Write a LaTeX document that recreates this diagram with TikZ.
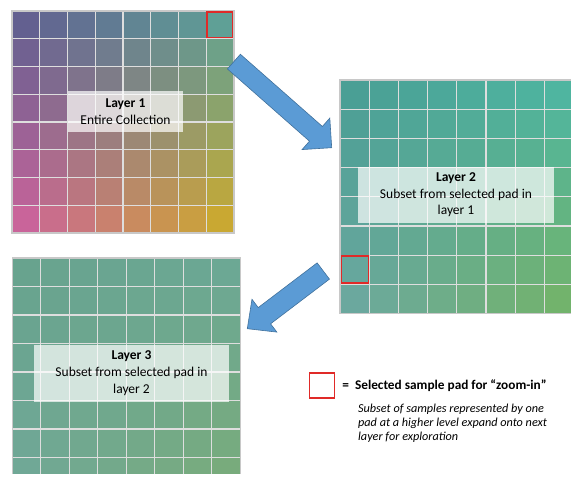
\documentclass[tikz,border=0pt]{standalone}
\usepackage{fontspec}
\setmainfont{Carlito}
\usetikzlibrary{calc,positioning}

\definecolor{padred}{HTML}{E02A28}
\definecolor{arrowblue}{HTML}{5B9BD5}
\definecolor{arrowedge}{HTML}{41719C}
\definecolor{gridline}{HTML}{DEDEDE}
\definecolor{gridframe}{HTML}{C8C8C8}
% corner colours of the three layers
\definecolor{oneTL}{HTML}{636090}
\definecolor{oneTR}{HTML}{5FA096}
\definecolor{oneBL}{HTML}{C9649A}
\definecolor{oneBR}{HTML}{C9A832}
\definecolor{twoTL}{HTML}{4A9F95}
\definecolor{twoTR}{HTML}{4FB5A0}
\definecolor{twoBL}{HTML}{6BA89E}
\definecolor{twoBR}{HTML}{72B36C}
\definecolor{threeTL}{HTML}{68A38E}
\definecolor{threeTR}{HTML}{6CA894}
\definecolor{threeBL}{HTML}{70A896}
\definecolor{threeBR}{HTML}{78AB7C}

\tikzset{
  layerbox/.style={fill=white, fill opacity=0.7, text opacity=1, align=center, inner sep=0pt,
    font=\fontsize{13.5}{16.8}\selectfont},
  padmark/.style={draw=padred, line width=1.4pt},
  blockarrow/.style={fill=arrowblue, draw=arrowedge, line width=0.6pt, line join=miter},
  cellline/.style={gridline, line width=1.3pt},
  cellframe/.style={gridframe, line width=1.6pt},
}

\begin{document}
\begin{tikzpicture}[x=1pt, y=-1pt]
    \useasboundingbox (0,0) rectangle (571,484);

    % Layer 1: 8x8 pads
    \foreach \i in {0,...,7}{
      \foreach \j in {0,...,7}{
        \pgfmathtruncatemacro\cx{100*\i/7}
        \pgfmathtruncatemacro\cy{100*\j/7}
        \colorlet{rowtop}{oneTR!\cx!oneTL}
        \colorlet{rowbot}{oneBR!\cx!oneBL}
        \fill[rowbot!\cy!rowtop] ({12+27.75*\i},{11+27.75*\j}) rectangle ++(27.75,27.75);
      }
    }
    \foreach \k in {1,...,7}{
      \draw[cellline] ({12+27.75*\k},11) -- ++(0,222);
      \draw[cellline] (12,{11+27.75*\k}) -- ++(222,0);
    }
    \draw[cellframe] (12,11) rectangle ++(222,222);
    \node[padmark, minimum size=25.6, inner sep=0pt] (pickone) at (219.6,25) {};
    \node[layerbox, minimum width=115, minimum height=41] (layerone) at (125.5,111.5)
      {\textbf{Layer 1}\\Entire Collection};

    % Layer 2: subset of one pad
    \foreach \i in {0,...,7}{
      \foreach \j in {0,...,7}{
        \pgfmathtruncatemacro\cx{100*\i/7}
        \pgfmathtruncatemacro\cy{100*\j/7}
        \colorlet{rowtop}{twoTR!\cx!twoTL}
        \colorlet{rowbot}{twoBR!\cx!twoBL}
        \fill[rowbot!\cy!rowtop] ({340+29.2*\i},{80+29.2*\j}) rectangle ++(29.2,29.2);
      }
    }
    \foreach \k in {1,...,7}{
      \draw[cellline] ({340+29.2*\k},80) -- ++(0,233.6);
      \draw[cellline] (340,{80+29.2*\k}) -- ++(233.6,0);
    }
    \draw[cellframe] (340,80) rectangle ++(233.6,233.6);
    \node[padmark, minimum size=27, inner sep=0pt] (picktwo) at (355,269.5) {};
    \node[layerbox, minimum width=196, minimum height=56] (layertwo) at (456,194.7)
      {\textbf{Layer 2}\\Subset from selected pad in\\layer 1};

    % Layer 3: subset of one pad, cut off at the bottom
    \begin{scope}
      \clip (11,257) rectangle (241.5,473.5);
      \foreach \i in {0,...,7}{
        \foreach \j in {0,...,7}{
          \pgfmathtruncatemacro\cx{100*\i/7}
          \pgfmathtruncatemacro\cy{100*\j/7}
          \colorlet{rowtop}{threeTR!\cx!threeTL}
          \colorlet{rowbot}{threeBR!\cx!threeBL}
          \fill[rowbot!\cy!rowtop] ({12.3+28.5*\i},{258+28.5*\j}) rectangle ++(28.5,28.5);
        }
      }
      \foreach \k in {1,...,7}{
        \draw[cellline] ({12.3+28.5*\k},258) -- ++(0,228);
        \draw[cellline] (12.3,{258+28.5*\k}) -- ++(228,0);
      }
      \draw[cellframe] (12.3,258) rectangle ++(228,228);
    \end{scope}
    \node[layerbox, minimum width=195, minimum height=56.7] (layerthree) at (131.5,373.3)
      {\textbf{Layer 3}\\Subset from selected pad in\\layer 2};

    % zoom arrows
    \coordinate (tailA) at (233.9,61.6);
    \coordinate (tipA) at (331.7,147.7);
    \coordinate (neckA) at ($(tipA)!21pt!(tailA)$);
    \draw[blockarrow] ($(tailA)!9.8pt!90:(tipA)$) -- ($(neckA)!9.8pt!90:(tipA)$)
      -- ($(neckA)!21pt!90:(tipA)$) -- (tipA) -- ($(neckA)!21pt!-90:(tipA)$)
      -- ($(neckA)!9.8pt!-90:(tipA)$) -- ($(tailA)!9.8pt!-90:(tipA)$) -- cycle;

    \coordinate (tailB) at (323.3,271);
    \coordinate (tipB) at (247.3,328.7);
    \coordinate (neckB) at ($(tipB)!21.5pt!(tailB)$);
    \draw[blockarrow] ($(tailB)!10.2pt!90:(tipB)$) -- ($(neckB)!10.2pt!90:(tipB)$)
      -- ($(neckB)!20.6pt!90:(tipB)$) -- (tipB) -- ($(neckB)!20.6pt!-90:(tipB)$)
      -- ($(neckB)!10.2pt!-90:(tipB)$) -- ($(tailB)!10.2pt!-90:(tipB)$) -- cycle;

    % legend
    \node[padmark, minimum size=25, inner sep=0pt] (keypad) at (322,385.5) {};
    \node[right=7pt of keypad, inner sep=0pt, font=\fontsize{13.3}{15}\selectfont\bfseries] (keytext)
      {=\ \ Selected sample pad for “zoom-in”};
    \node[anchor=north west, align=left, inner sep=0pt, font=\fontsize{12.2}{13.8}\selectfont\itshape] (keynote)
      at (358,404) {Subset of samples represented by one\\pad at a higher level expand onto next\\layer for exploration};
\end{tikzpicture}
\end{document}
